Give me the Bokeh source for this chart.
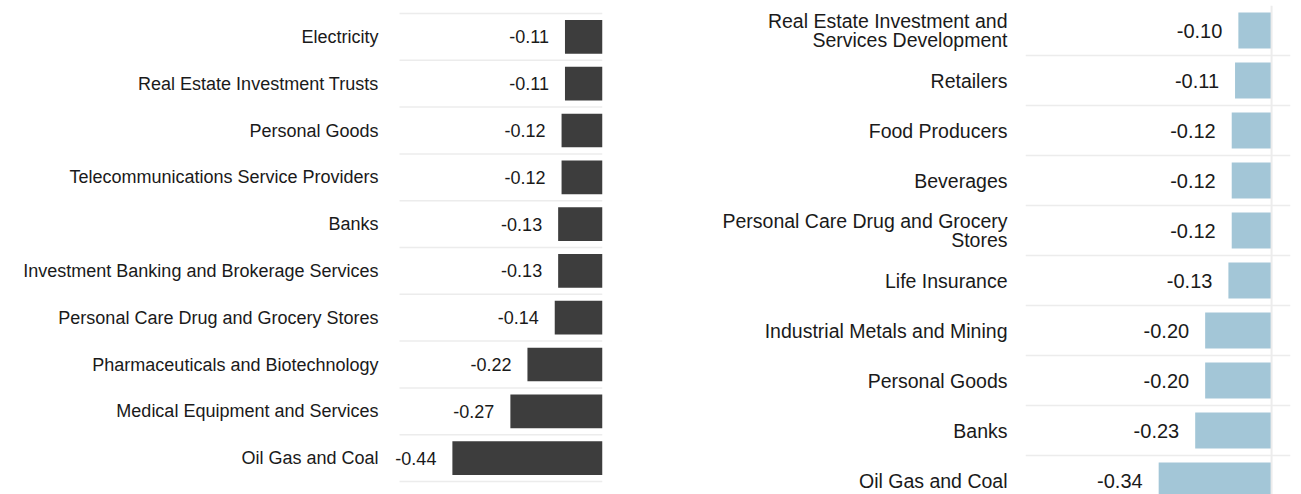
from bokeh.plotting import figure
from bokeh.models import ColumnDataSource, Range1d, FixedTicker, Span, LabelSet
from bokeh.layouts import row
from bokeh.embed import file_html
from bokeh.resources import INLINE
from bokeh.core.properties import value

# ---- data ----
left_categories = [
    "Electricity",
    "Real Estate Investment Trusts",
    "Personal Goods",
    "Telecommunications Service Providers",
    "Banks",
    "Investment Banking and Brokerage Services",
    "Personal Care Drug and Grocery Stores",
    "Pharmaceuticals and Biotechnology",
    "Medical Equipment and Services",
    "Oil Gas and Coal",
]
left_values = [-0.11, -0.11, -0.12, -0.12, -0.13, -0.13, -0.14, -0.22, -0.27, -0.44]

right_categories = [
    "Real Estate Investment and\nServices Development",
    "Retailers",
    "Food Producers",
    "Beverages",
    "Personal Care Drug and Grocery\nStores",
    "Life Insurance",
    "Industrial Metals and Mining",
    "Personal Goods",
    "Banks",
    "Oil Gas and Coal",
]
right_values = [-0.10, -0.11, -0.12, -0.12, -0.12, -0.13, -0.20, -0.20, -0.23, -0.34]

FONT = "Liberation Sans"
TEXT_COLOR = "#1a1a1a"
GRID_COLOR = "#ececec"


def make_panel(cats, vals, color, width, height, x_range, y_range,
               border_left, border_right, border_top, border_bottom,
               font_size, value_font_size, standoff, zero_line=False,
               grid_start=None):
    ys = list(range(len(cats)))
    src = ColumnDataSource(dict(
        y=ys, v=vals, lab=[f"{v:.2f}" for v in vals]))
    p = figure(width=width, height=height, output_backend="svg",
               toolbar_location=None, x_range=x_range, y_range=y_range,
               min_border_left=border_left, min_border_right=border_right,
               min_border_top=border_top, min_border_bottom=border_bottom,
               outline_line_color=None)
    bounds = [i - 0.5 for i in range(len(cats) + 1)]
    if grid_start is not None:
        # horizontal row separators limited to the bar area
        p.ygrid.visible = False
        p.segment(x0=[grid_start] * len(bounds), x1=[0] * len(bounds),
                  y0=bounds, y1=bounds, line_color=GRID_COLOR, line_width=1.5)
    else:
        p.ygrid.ticker = FixedTicker(ticks=bounds)
        p.ygrid.grid_line_color = GRID_COLOR
        p.ygrid.grid_line_width = 1.5
    p.hbar(y="y", left="v", right=0, height=0.72, source=src,
           fill_color=color, line_color=None)
    labels = LabelSet(x="v", y="y", text="lab", source=src, x_offset=-16,
                      text_align="right", text_baseline="middle",
                      text_font=value(FONT), text_font_size=value(value_font_size),
                      text_color=TEXT_COLOR)
    p.add_layout(labels)
    if zero_line:
        p.add_layout(Span(location=0, dimension="height",
                          line_color=GRID_COLOR, line_width=2))
    p.xaxis.visible = False
    p.xgrid.visible = False
    ax = p.yaxis[0]
    ax.ticker = FixedTicker(ticks=ys)
    ax.major_label_overrides = {i: c for i, c in enumerate(cats)}
    ax.axis_line_color = None
    ax.major_tick_line_color = None
    ax.minor_tick_line_color = None
    ax.major_tick_out = 0
    ax.major_tick_in = 0
    ax.major_label_standoff = standoff
    ax.major_label_text_font = FONT
    ax.major_label_text_font_size = font_size
    ax.major_label_text_color = TEXT_COLOR
    ax.major_label_text_line_height = 0.85
    return p


# both frames span y = 5 .. 494 px; left rows are 46.8 px starting at y = 13,
# right rows are 50 px starting at y = 5 (last row cut by the window edge)
left = make_panel(left_categories, left_values, "#3d3d3d",
                  width=700, height=494,
                  x_range=Range1d(-0.595 - 19 / 341, 0.0),
                  y_range=Range1d(-0.5 - 8 / 46.8 + 489 / 46.8, -0.5 - 8 / 46.8),
                  border_left=380, border_right=98,
                  border_top=5, border_bottom=0,
                  font_size="18px", value_font_size="18px", standoff=2,
                  grid_start=-0.595)

right = make_panel(right_categories, right_values, "#a3c6d7",
                   width=601, height=494,
                   x_range=Range1d(-0.741, 0.057),
                   y_range=Range1d(-0.5 + 489 / 50.0, -0.5),
                   border_left=325, border_right=11,
                   border_top=5, border_bottom=0,
                   font_size="19.5px", value_font_size="20px", standoff=18,
                   zero_line=True)

layout = row(left, right)
open("out.html", "w").write(file_html(layout, INLINE))
